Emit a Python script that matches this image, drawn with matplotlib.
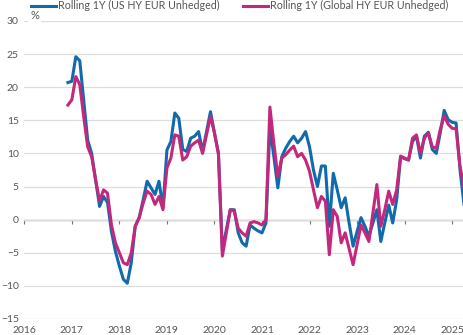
import numpy as np
import pandas as pd
import matplotlib
matplotlib.use("Agg")
import matplotlib.pyplot as plt

plt.rcParams['font.family'] = ['Lato', 'DejaVu Sans']

# monthly observations, Dec 2016 .. Apr 2025
dates = pd.date_range('2016-12-01', periods=101, freq='MS')

us_hy = [20.7, 20.9, 24.6, 24.0, 18.0, 12.0, 10.0, 6.0, 2.0, 3.5, 2.6, -1.8, -4.8,
         -7.0, -9.0, -9.6, -6.5, -1.0, 0.3, 3.0, 5.8, 4.8, 3.8, 5.8, 1.8,
         10.5, 11.8, 16.1, 15.3, 10.6, 10.3, 12.3, 12.6, 13.3, 10.3, 13.3, 16.3,
         13.1, 10.0, -4.7, -1.5, 1.5, 1.5, -2.0, -3.5, -4.0, -0.8, -1.3, -1.7,
         -2.0, -0.5, 14.0, 9.5, 4.8, 9.5, 10.8, 11.8, 12.6, 11.6, 12.3, 13.3,
         11.0, 7.5, 5.0, 8.1, 8.1, -1.0, 7.0, 4.5, 1.8, 3.3, -0.5, -4.0,
         -1.8, 0.3, -1.0, -2.5, -0.5, 1.5, -3.3, -0.5, 2.2, -0.5, 3.0, 9.5,
         9.2, 9.0, 11.8, 12.6, 9.3, 12.6, 13.2, 10.6, 10.0, 13.1, 16.5, 15.1,
         14.7, 14.6, 7.5, 2.3]

global_hy = [17.3, 18.1, 21.6, 20.4, 15.5, 11.0, 9.5, 6.0, 2.8, 4.5, 4.0, -0.8, -3.5,
             -5.0, -6.5, -6.8, -5.0, -1.0, 0.3, 2.5, 4.3, 3.8, 2.3, 3.5, 1.5,
             7.8, 9.3, 12.8, 12.6, 9.0, 9.5, 11.1, 11.6, 12.0, 10.0, 12.8, 15.6,
             13.1, 10.0, -5.5, -2.0, 1.5, 1.3, -1.3, -2.0, -2.5, -0.5, -0.3, -0.5,
             -0.8, 0.0, 17.0, 11.5, 6.5, 9.3, 9.8, 10.5, 11.1, 9.5, 10.0, 9.0,
             7.3, 4.5, 1.8, 3.5, 2.8, -5.3, 1.5, 0.5, -3.5, -2.0, -4.4, -6.8,
             -3.8, -0.8, -2.0, -3.3, 1.0, 5.3, -1.0, 1.5, 4.3, 2.3, 4.5, 9.6,
             9.3, 9.0, 12.3, 12.8, 10.0, 12.3, 13.1, 11.0, 10.8, 13.6, 15.7, 14.4,
             13.8, 13.7, 8.0, 5.0]

years = list(range(2016, 2026))
yticks = [30, 25, 20, 15, 10, 5, 0, -5, -10, -15]

blue = '#106aab'
magenta = '#c4287d'
txt = '#555555'

x = dates.year + (dates.month - 1) / 12

fig = plt.figure(figsize=(4.64, 3.35), dpi=100)
ax = fig.add_axes([0.0524, 0.0478, 0.9476, 0.8896])

ax.plot(x, us_hy, color=blue, lw=2.2, label='Rolling 1Y (US HY EUR Unhedged)')
ax.plot(x, global_hy, color=magenta, lw=2.2, label='Rolling 1Y (Global HY EUR Unhedged)')

ax.set_xlim(2016, 2025.25)
ax.set_ylim(-15, 30)
ax.set_yticks(yticks)
ax.set_xticks(years)
ax.tick_params(axis='both', length=0, labelsize=7.5, colors=txt)
ax.tick_params(axis='y', pad=4)
ax.tick_params(axis='x', pad=5)
ax.grid(axis='y', color='#dddddd', lw=0.9)
for s in ax.spines.values():
    s.set_visible(False)

# zero line with year ticks
zero = ax.secondary_xaxis(15 / 45)
zero.set_xticks(years)
zero.set_xticklabels([])
zero.tick_params(length=3, width=0.8, color='#777777', direction='out')
zero.spines['bottom'].set_color('#777777')
zero.spines['bottom'].set_linewidth(0.9)

ax.text(2016.12, 30, '%', fontsize=8, color=txt, va='bottom', ha='left',
        bbox=dict(facecolor='white', edgecolor='none', pad=1.5))

fig.legend(loc='upper left', bbox_to_anchor=(0.058, 1.012), ncol=2, frameon=False,
           fontsize=7.7, handlelength=2.3, handletextpad=0.2, columnspacing=2.2,
           labelcolor=txt, borderaxespad=0)

fig.savefig('out.png', dpi=100)
